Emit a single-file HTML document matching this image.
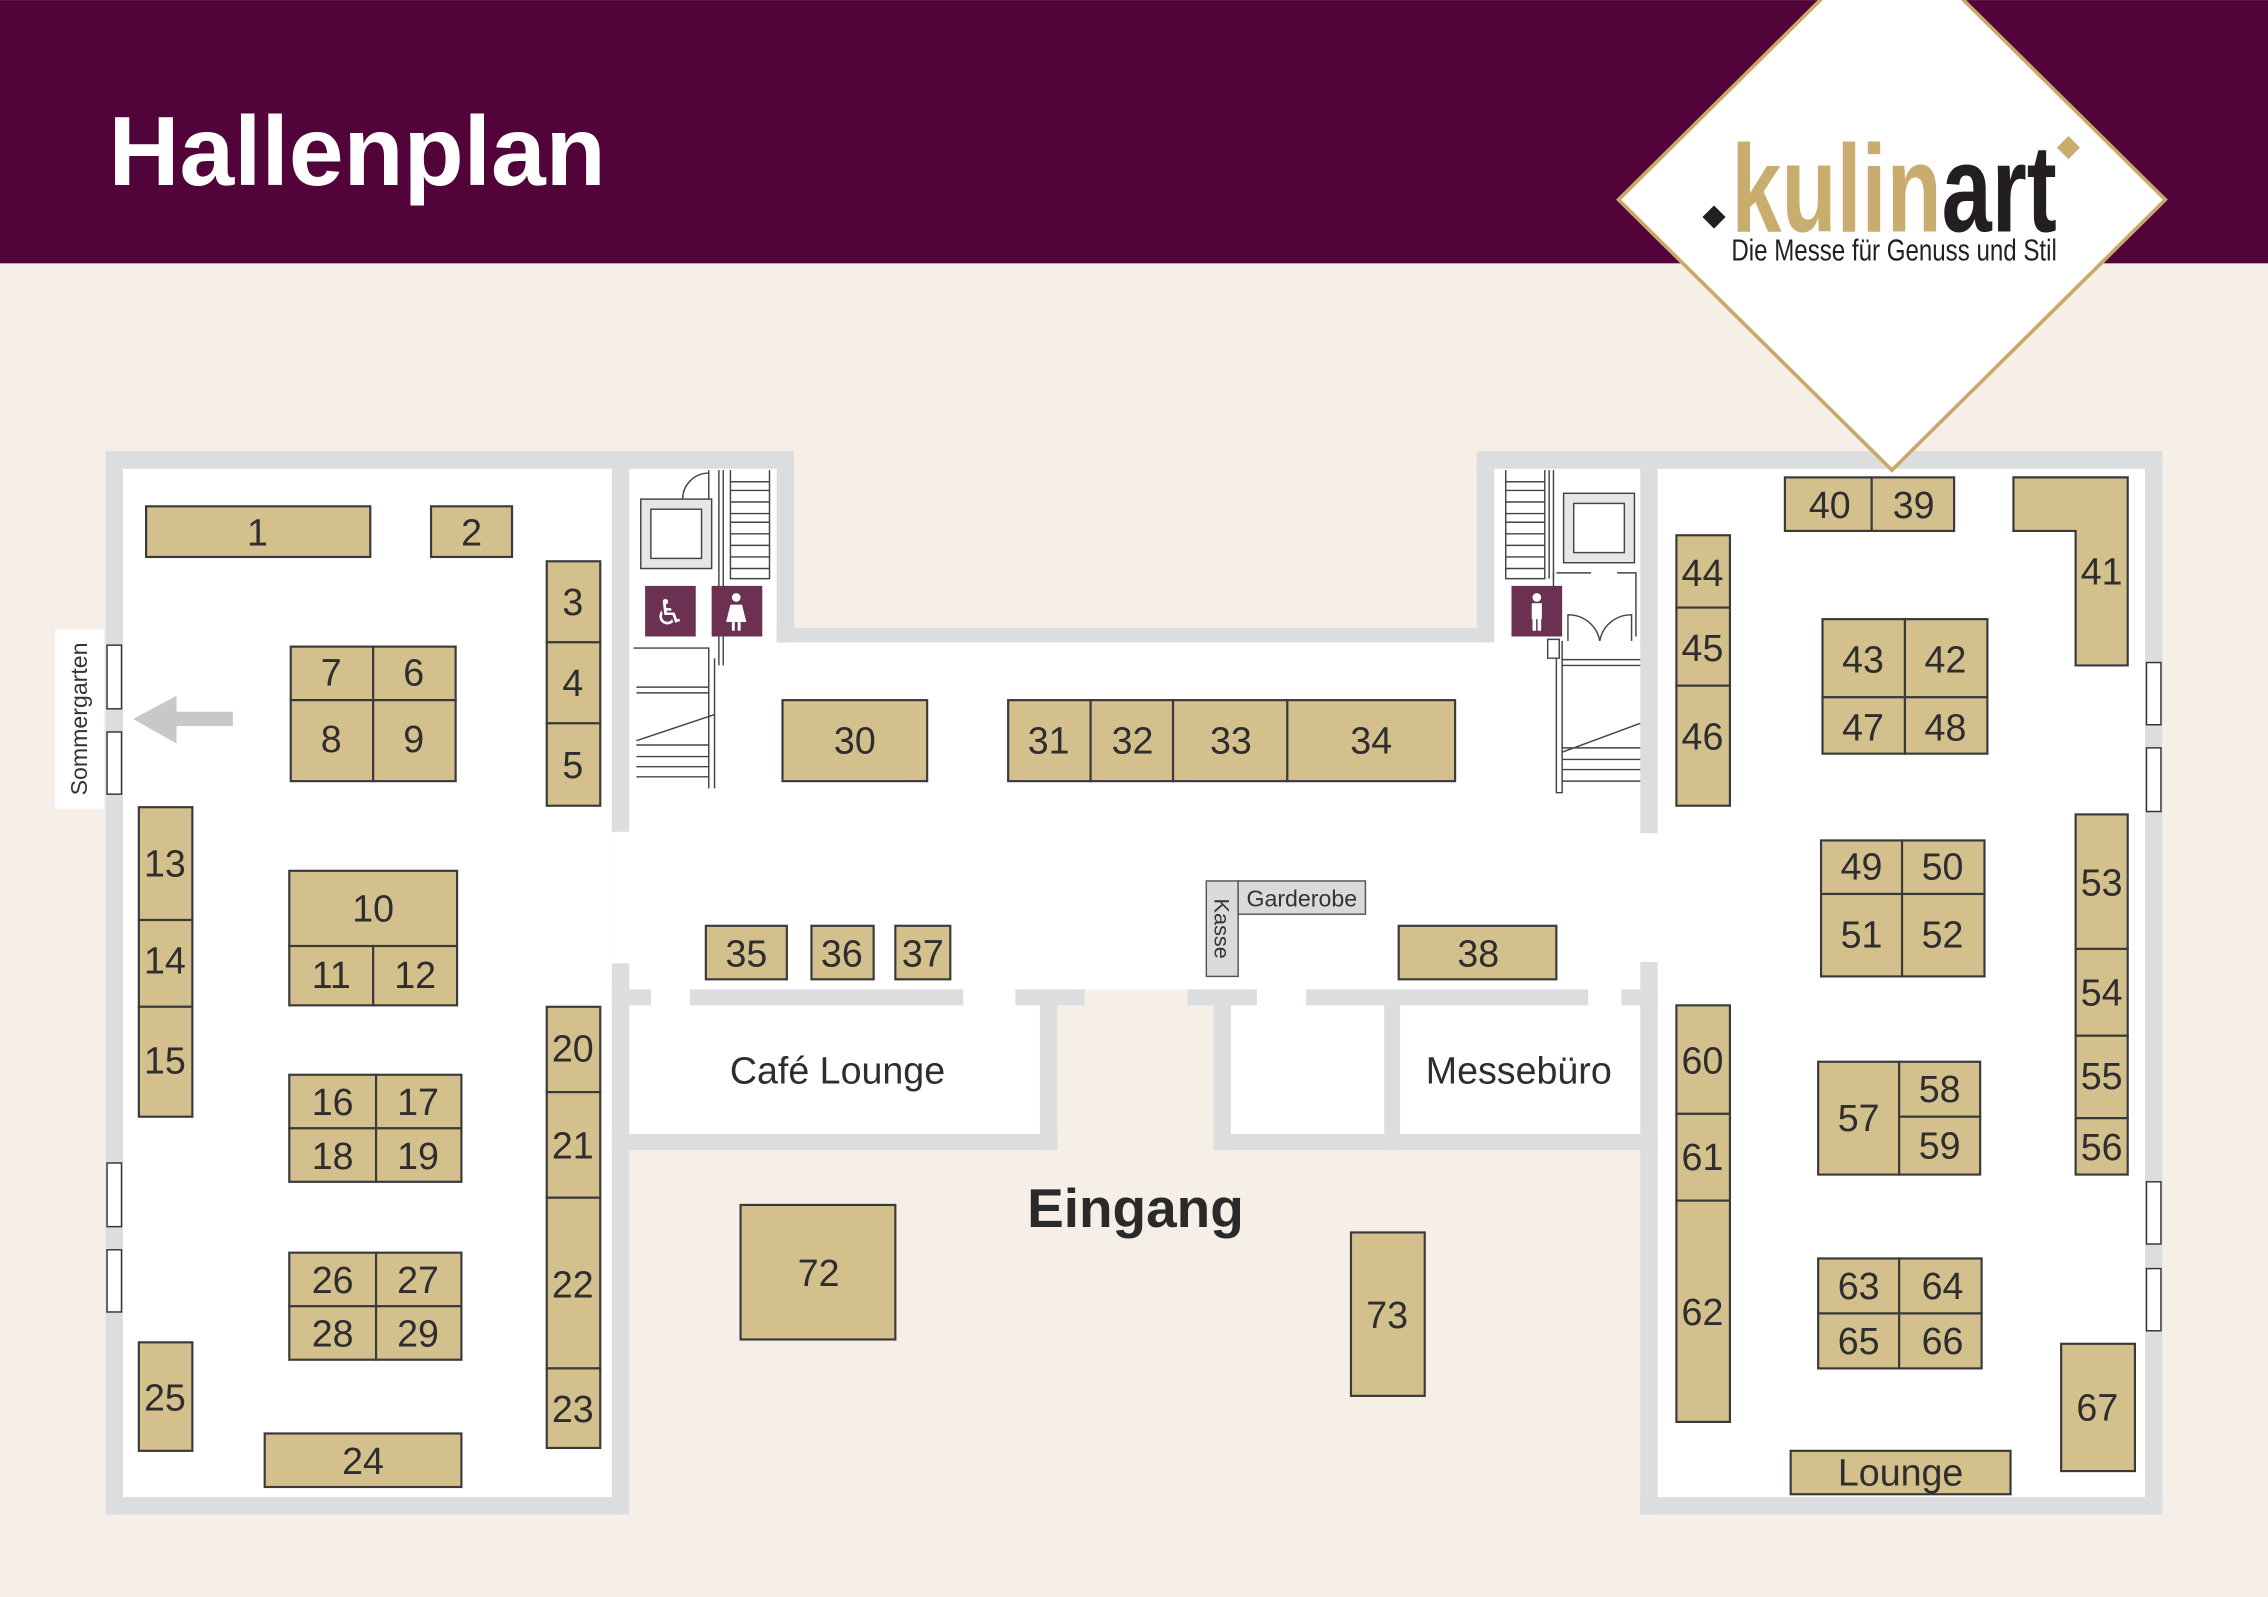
<!DOCTYPE html>
<html><head><meta charset="utf-8"><style>
html,body{margin:0;padding:0;background:#f5efe8;}
svg{display:block;}
.b{fill:#d4c08c;stroke:#3a3a3a;stroke-width:1.5;}
.t{font-family:"Liberation Sans",sans-serif;font-size:26px;fill:#2e2e2e;text-anchor:middle;dominant-baseline:central;}
.w{fill:#dcdddf;}
.ln{stroke:#444;stroke-width:1;fill:none;}
</style></head><body>
<svg width="2268" height="1597" viewBox="0 0 1568 1104" xmlns="http://www.w3.org/2000/svg">
<rect x="0" y="0" width="1568" height="1104" fill="#f5efe8"/>
<rect x="0" y="0" width="1568" height="182" fill="#520339"/>
<text x="75" y="128" font-family="Liberation Sans,sans-serif" font-weight="bold" font-size="68" fill="#fff">Hallenplan</text>

<!-- white interiors -->
<g fill="#fff">
<rect x="85" y="324" width="338" height="711"/>
<rect x="435" y="324" width="102" height="251"/>
<rect x="423" y="444" width="723" height="240"/>
<rect x="1033" y="324" width="101" height="251"/>
<rect x="1146" y="324" width="337" height="711"/>
<rect x="435" y="684" width="315" height="100"/>
<rect x="821" y="684" width="313" height="100"/>
</g>
<!-- walls -->
<g class="w">
<rect x="73" y="312" width="476" height="12"/>
<rect x="73" y="312" width="12" height="735"/>
<rect x="73" y="1035" width="362" height="12"/>
<rect x="423" y="324" width="12" height="251"/>
<rect x="423" y="666" width="12" height="381"/>
<rect x="537" y="312" width="12" height="132"/>
<rect x="537" y="434" width="496" height="10"/>
<rect x="1021" y="312" width="12" height="132"/>
<rect x="1021" y="312" width="474" height="12"/>
<rect x="1134" y="324" width="12" height="252"/>
<rect x="1134" y="665" width="12" height="382"/>
<rect x="1483" y="312" width="12" height="735"/>
<rect x="1134" y="1035" width="361" height="12"/>
<rect x="423" y="684" width="27" height="11"/>
<rect x="477" y="684" width="189" height="11"/>
<rect x="702" y="684" width="48" height="11"/>
<rect x="821" y="684" width="48" height="11"/>
<rect x="903" y="684" width="195" height="11"/>
<rect x="1121" y="684" width="25" height="11"/>
<rect x="719" y="695" width="12" height="100"/>
<rect x="423" y="784" width="308" height="11"/>
<rect x="839" y="695" width="12" height="100"/>
<rect x="957" y="695" width="11" height="100"/>
<rect x="839" y="784" width="307" height="11"/>
</g>
<rect x="731" y="695" width="108" height="89" fill="#f5efe8"/>
<!-- door markers -->
<g fill="#fff" stroke="#333" stroke-width="1">
<rect x="74" y="446" width="10" height="44"/><rect x="74" y="506" width="10" height="43"/>
<rect x="74" y="804" width="10" height="44"/><rect x="74" y="864" width="10" height="43"/>
<rect x="1484" y="458" width="10" height="43"/><rect x="1484" y="517" width="10" height="44"/>
<rect x="1484" y="817" width="10" height="43"/><rect x="1484" y="877" width="10" height="43"/>
</g>
<rect x="38" y="435" width="34" height="124" fill="#fff"/>
<text transform="translate(60,497) rotate(-90)" font-family="Liberation Sans,sans-serif" font-size="16" fill="#333" text-anchor="middle">Sommergarten</text>
<polygon points="92,497 122,481 122,492 161,492 161,502 122,502 122,514" fill="#c8c8c8"/>

<!-- left stair area -->
<g class="ln">
<rect x="443" y="345" width="49" height="48" fill="#e6e6e6"/>
<rect x="450" y="352" width="35" height="34" fill="#fff"/>
<path d="M472 345 a18 18 0 0 1 18 -18 M490 325 V345 M497 325 V460 M500 325 V460"/>
<path d="M505 325 V400 H532 V325"/>
<path d="M505 333 H532 M505 339 H532 M505 347 H532 M505 355 H532 M505 361 H532 M505 369 H532 M505 377 H532 M505 385 H532 M505 393 H532"/>
<path d="M438 448 H490 V545 M494 455 V545"/>
<path d="M440 475 H490 M440 479 H490 M440 512 L494 494 M440 515 H490 M440 523 H490 M440 530 H490 M440 537 H490"/>
</g>
<rect x="446" y="405" width="35" height="35" fill="#6b3052"/>
<rect x="492" y="405" width="35" height="35" fill="#6b3052"/>
<text x="463" y="424" font-family="DejaVu Sans,sans-serif" font-size="24" fill="#fff" text-anchor="middle" dominant-baseline="central">♿</text>
<g fill="#fff"><circle cx="509" cy="413" r="3"/><polygon points="505,418 513,418 516,430 502,430"/><rect x="506" y="430" width="2" height="6"/><rect x="510" y="430" width="2" height="6"/></g>

<!-- right stair area -->
<g class="ln">
<path d="M1041 325 V400 H1068 V325"/>
<path d="M1041 333 H1068 M1041 339 H1068 M1041 347 H1068 M1041 355 H1068 M1041 361 H1068 M1041 369 H1068 M1041 377 H1068 M1041 385 H1068 M1041 393 H1068"/>
<path d="M1071 325 V400 M1074 325 V400"/>
<rect x="1081" y="341" width="49" height="48" fill="#e6e6e6"/>
<rect x="1088" y="348" width="35" height="34" fill="#fff"/>
<path d="M1074 396 V440 M1076 396 H1100 M1118 396 H1131 V440"/>
<path d="M1084 443 V425 a22 22 0 0 1 22 18 a22 22 0 0 1 22 -18 V443"/>
<path d="M1070 442 H1078 V455 H1070 Z M1076 455 V548 H1080 V443 M1080 456 H1134 M1080 460 H1134"/>
<path d="M1080 520 L1134 500 M1080 517 H1134 M1080 525 H1134 M1080 532 H1134 M1080 540 H1134"/>
</g>
<rect x="1045" y="405" width="35" height="35" fill="#6b3052"/>
<g fill="#fff"><circle cx="1062.5" cy="413" r="3"/><rect x="1059" y="417" width="7" height="11"/><rect x="1059.5" y="426" width="2.5" height="10"/><rect x="1063" y="426" width="2.5" height="10"/></g>

<!-- booths -->
<g class="b">
<rect x="101" y="350" width="155" height="35"/><rect x="298" y="350" width="56" height="35"/>
<rect x="378" y="388" width="37" height="56"/><rect x="378" y="444" width="37" height="56"/><rect x="378" y="500" width="37" height="57"/>
<rect x="201" y="447" width="57" height="37"/><rect x="258" y="447" width="57" height="37"/><rect x="201" y="484" width="57" height="56"/><rect x="258" y="484" width="57" height="56"/>
<rect x="96" y="558" width="37" height="78"/><rect x="96" y="636" width="37" height="60"/><rect x="96" y="696" width="37" height="76"/>
<rect x="200" y="602" width="116" height="52"/><rect x="200" y="654" width="58" height="41"/><rect x="258" y="654" width="58" height="41"/>
<rect x="200" y="743" width="60" height="37"/><rect x="260" y="743" width="59" height="37"/><rect x="200" y="780" width="60" height="37"/><rect x="260" y="780" width="59" height="37"/>
<rect x="200" y="866" width="60" height="37"/><rect x="260" y="866" width="59" height="37"/><rect x="200" y="903" width="60" height="37"/><rect x="260" y="903" width="59" height="37"/>
<rect x="96" y="928" width="37" height="75"/><rect x="183" y="991" width="136" height="37"/>
<rect x="378" y="696" width="37" height="59"/><rect x="378" y="755" width="37" height="73"/><rect x="378" y="828" width="37" height="118"/><rect x="378" y="946" width="37" height="55"/>
<rect x="541" y="484" width="100" height="56"/>
<rect x="697" y="484" width="57" height="56"/><rect x="754" y="484" width="57" height="56"/><rect x="811" y="484" width="79" height="56"/><rect x="890" y="484" width="116" height="56"/>
<rect x="488" y="640" width="56" height="37"/><rect x="561" y="640" width="43" height="37"/><rect x="619" y="640" width="38" height="37"/>
<rect x="967" y="640" width="109" height="37"/>
<rect x="512" y="833" width="107" height="93"/><rect x="934" y="852" width="51" height="113"/>
<rect x="1234" y="330" width="60" height="37"/><rect x="1294" y="330" width="57" height="37"/>
<polygon points="1392,330 1471,330 1471,460 1435,460 1435,367 1392,367"/>
<rect x="1159" y="370" width="37" height="50"/><rect x="1159" y="420" width="37" height="54"/><rect x="1159" y="474" width="37" height="83"/>
<rect x="1260" y="428" width="57" height="54"/><rect x="1317" y="428" width="57" height="54"/><rect x="1260" y="482" width="57" height="39"/><rect x="1317" y="482" width="57" height="39"/>
<rect x="1259" y="581" width="56" height="37"/><rect x="1315" y="581" width="57" height="37"/><rect x="1259" y="618" width="56" height="57"/><rect x="1315" y="618" width="57" height="57"/>
<rect x="1435" y="563" width="36" height="93"/><rect x="1435" y="656" width="36" height="60"/><rect x="1435" y="716" width="36" height="57"/><rect x="1435" y="773" width="36" height="39"/>
<rect x="1159" y="695" width="37" height="75"/><rect x="1159" y="770" width="37" height="60"/><rect x="1159" y="830" width="37" height="153"/>
<rect x="1257" y="734" width="56" height="78"/><rect x="1313" y="734" width="56" height="38"/><rect x="1313" y="772" width="56" height="40"/>
<rect x="1257" y="870" width="56" height="38"/><rect x="1313" y="870" width="57" height="38"/><rect x="1257" y="908" width="56" height="38"/><rect x="1313" y="908" width="57" height="38"/>
<rect x="1425" y="929" width="51" height="88"/><rect x="1238" y="1003" width="152" height="30"/>
</g>
<g fill="#d9dadc" stroke="#555" stroke-width="1">
<rect x="834" y="609" width="22" height="66"/><rect x="856" y="609" width="88" height="23"/>
</g>
<text x="900" y="621" font-family="Liberation Sans,sans-serif" font-size="16" fill="#333" text-anchor="middle" dominant-baseline="central">Garderobe</text>
<text transform="translate(845,642) rotate(90)" font-family="Liberation Sans,sans-serif" font-size="15" fill="#333" text-anchor="middle" dominant-baseline="central">Kasse</text>

<g class="t">
<text x="178" y="368">1</text><text x="326" y="368">2</text>
<text x="396" y="416">3</text><text x="396" y="472">4</text><text x="396" y="529">5</text>
<text x="229" y="465">7</text><text x="286" y="465">6</text><text x="229" y="511">8</text><text x="286" y="511">9</text>
<text x="114" y="597">13</text><text x="114" y="664">14</text><text x="114" y="733">15</text>
<text x="258" y="628">10</text><text x="229" y="674">11</text><text x="287" y="674">12</text>
<text x="230" y="762">16</text><text x="289" y="762">17</text><text x="230" y="799">18</text><text x="289" y="799">19</text>
<text x="230" y="885">26</text><text x="289" y="885">27</text><text x="230" y="922">28</text><text x="289" y="922">29</text>
<text x="114" y="966">25</text><text x="251" y="1010">24</text>
<text x="396" y="725">20</text><text x="396" y="792">21</text><text x="396" y="888">22</text><text x="396" y="974">23</text>
<text x="591" y="512">30</text>
<text x="725" y="512">31</text><text x="783" y="512">32</text><text x="851" y="512">33</text><text x="948" y="512">34</text>
<text x="516" y="659">35</text><text x="582" y="659">36</text><text x="638" y="659">37</text>
<text x="1022" y="659">38</text>
<text x="566" y="880">72</text><text x="959" y="909">73</text>
<text x="1265" y="349">40</text><text x="1323" y="349">39</text><text x="1453" y="395">41</text>
<text x="1177" y="396">44</text><text x="1177" y="448">45</text><text x="1177" y="509">46</text>
<text x="1288" y="456">43</text><text x="1345" y="456">42</text><text x="1288" y="503">47</text><text x="1345" y="503">48</text>
<text x="1287" y="599">49</text><text x="1343" y="599">50</text><text x="1287" y="646">51</text><text x="1343" y="646">52</text>
<text x="1453" y="610">53</text><text x="1453" y="686">54</text><text x="1453" y="744">55</text><text x="1453" y="793">56</text>
<text x="1177" y="733">60</text><text x="1177" y="800">61</text><text x="1177" y="907">62</text>
<text x="1285" y="773">57</text><text x="1341" y="753">58</text><text x="1341" y="792">59</text>
<text x="1285" y="889">63</text><text x="1343" y="889">64</text><text x="1285" y="927">65</text><text x="1343" y="927">66</text>
<text x="1450" y="973">67</text><text x="1314" y="1018">Lounge</text>
<text x="579" y="740">Café Lounge</text><text x="1050" y="740">Messebüro</text>
</g>
<text x="785" y="835" font-family="Liberation Sans,sans-serif" font-weight="bold" font-size="38" fill="#2a2a2a" text-anchor="middle" dominant-baseline="central">Eingang</text>

<!-- logo -->
<polygon points="1308,-49 1497,138 1308,325 1119,138" fill="#fff" stroke="#c9a96a" stroke-width="2.5"/>
<polygon points="1185,142 1193,150 1185,158 1177,150" fill="#231f20"/>
<polygon points="1430,94 1438,102 1430,110 1422,102" fill="#c9ad6e"/>
<text x="1197" y="160" font-family="Liberation Sans Narrow,Liberation Sans,sans-serif" font-weight="bold" font-size="86" textLength="225" lengthAdjust="spacingAndGlyphs"><tspan fill="#c9ad6e">kulin</tspan><tspan fill="#231f20">art</tspan></text>
<text x="1197" y="180" font-family="Liberation Sans Narrow,Liberation Sans,sans-serif" font-size="21" fill="#231f20" textLength="225" lengthAdjust="spacingAndGlyphs">Die Messe für Genuss und Stil</text>
</svg>
</body></html>
